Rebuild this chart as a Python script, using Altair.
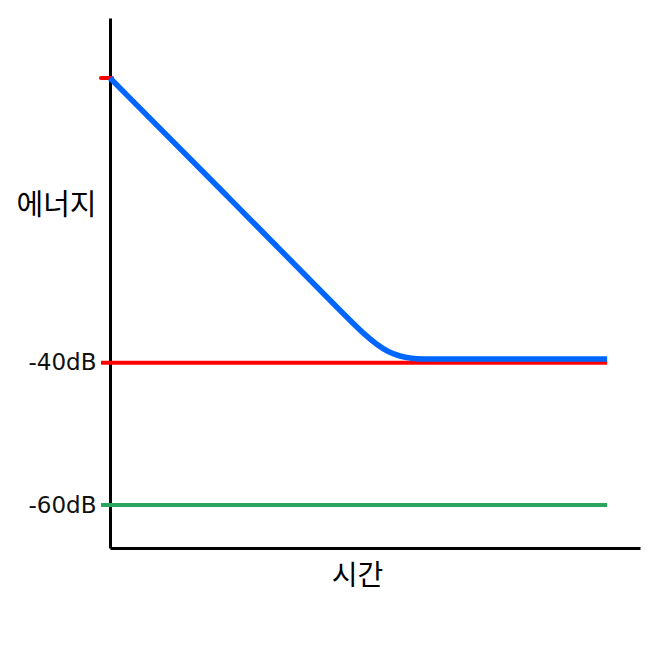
import altair as alt
import pandas as pd

# Blue energy decay curve control points (time units 0-100, energy in dB)
blue_x = [0, 22, 44, 52.5, 61, 77, 93.8]
blue_y = [0, -16.5, -33.1, -39.5, -39.5, -39.5, -39.5]

# Reference levels
ref_levels = [-40, -60]
ref_colors = ["#ff0000", "#2aa55f"]
ref_x_start = -1.7
ref_x_end = 93.8

# Small red marker at 0 dB
marker_x = [-1.7, 0.4]
marker_y = [0, 0]

tick_values = [-40, -60]

blue_df = pd.DataFrame({"t": blue_x, "e": blue_y})
ref_df = pd.DataFrame({
    "t": [ref_x_start, ref_x_start],
    "t2": [ref_x_end, ref_x_end],
    "e": ref_levels,
    "c": ref_colors,
})
marker_df = pd.DataFrame({"t": marker_x, "e": marker_y})

xs = alt.Scale(domain=[0, 100], nice=False, zero=False)
ys = alt.Scale(domain=[-66.04, 8.43], nice=False, zero=False)

x_axis = alt.Axis(
    title="시간", labels=False, ticks=False, grid=False,
    domainColor="black", domainWidth=3,
    titleFont="Noto Sans CJK KR", titleFontSize=28, titleFontWeight="normal",
    titleColor="black", titleX=247, titleY=28, titleAnchor="middle", titleBaseline="middle",
)
y_axis = alt.Axis(
    title="에너지", values=tick_values, labelExpr="datum.value + 'dB'",
    ticks=False, grid=False, domainColor="black", domainWidth=3,
    labelFont="DejaVu Sans", labelFontSize=23, labelColor="#111111", labelPadding=14,
    titleFont="Noto Sans CJK KR", titleFontSize=29, titleFontWeight="normal",
    titleColor="black", titleAngle=0, titleX=-54, titleY=187,
    titleAlign="center", titleBaseline="middle",
)

refs = alt.Chart(ref_df).mark_rule(strokeWidth=4, clip=False).encode(
    x=alt.X("t:Q", scale=xs, axis=x_axis),
    x2="t2:Q",
    y=alt.Y("e:Q", scale=ys, axis=y_axis),
    color=alt.Color("c:N", scale=None),
)

marker = alt.Chart(marker_df).mark_line(color="#ff0000", strokeWidth=4, strokeCap="round", clip=False).encode(
    x=alt.X("t:Q", scale=xs),
    y=alt.Y("e:Q", scale=ys),
)

blue = alt.Chart(blue_df).mark_line(color="#0066ff", strokeWidth=5.5, interpolate="basis").encode(
    x=alt.X("t:Q", scale=xs),
    y=alt.Y("e:Q", scale=ys),
)

chart = alt.layer(refs, marker, blue).properties(
    width=530, height=530,
    autosize=alt.AutoSizeParams(type="none"),
    padding={"left": 102, "top": 10, "right": 10, "bottom": 80},
).configure_view(stroke=None)

chart.save("out.html", embed_options={"renderer": "svg", "actions": False})
